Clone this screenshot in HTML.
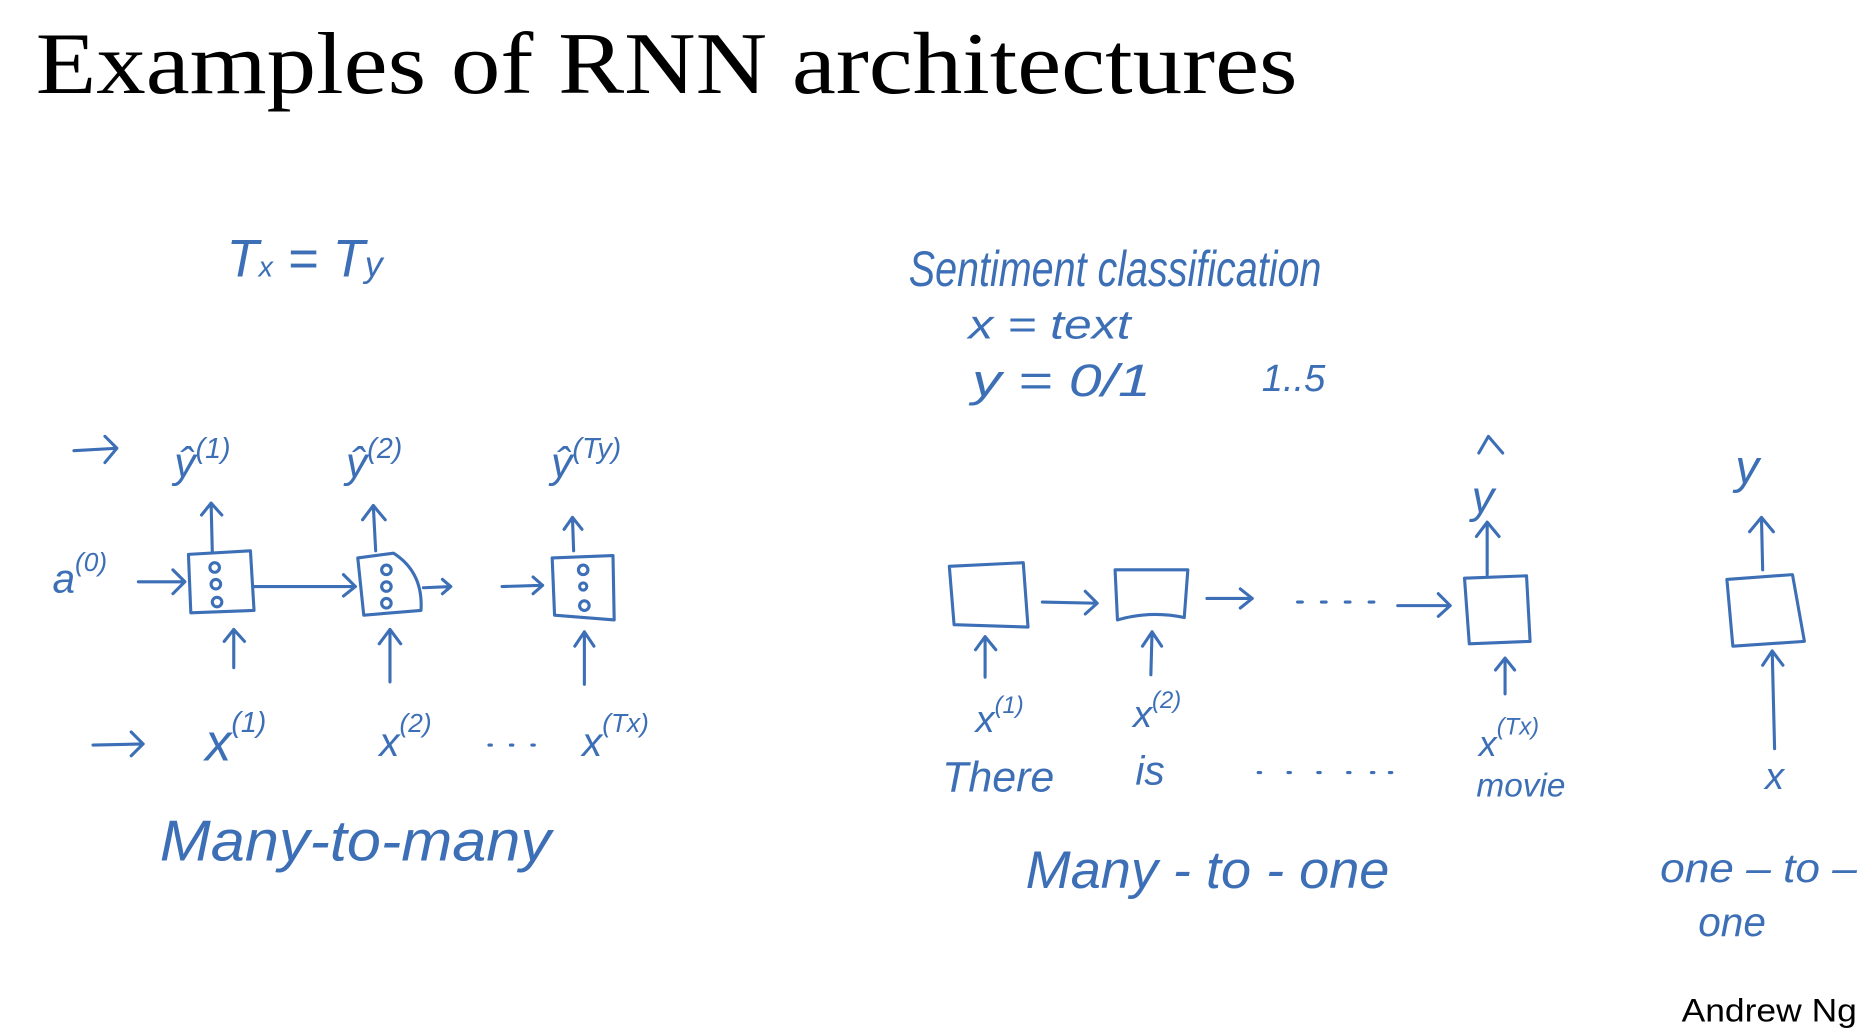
<!DOCTYPE html>
<html><head><style>
html,body{margin:0;padding:0;background:#fff;}
svg{display:block;}
.h{font-family:"Liberation Sans",sans-serif;fill:#3d6fb6;font-style:italic;}
</style></head><body>
<svg width="1870" height="1036" viewBox="0 0 1568 869" preserveAspectRatio="none" xmlns="http://www.w3.org/2000/svg">
<rect width="1568" height="869" fill="#fff"/>
<text x="30" y="78" font-family="Liberation Serif,serif" font-size="74" fill="#000" textLength="1058" lengthAdjust="spacingAndGlyphs">Examples of RNN architectures</text>
<text x="1410" y="857" font-family="Liberation Sans,sans-serif" font-size="27" fill="#000" textLength="147" lengthAdjust="spacingAndGlyphs">Andrew Ng</text>
<g fill="none" stroke="#3d6fb6" stroke-width="2.6" stroke-linecap="round" stroke-linejoin="round">
<path d="M158 465 L210 462 L213 512 L160 514 Z"/>
<path d="M300 468 L330 464 Q355 480 353 512 L305 516 Z"/>
<path d="M463 468 L514 466 L515 520 L465 516 Z"/>
<circle cx="180" cy="476" r="4"/><circle cx="181" cy="490" r="4"/><circle cx="182" cy="505" r="4"/>
<circle cx="324" cy="478" r="4"/><circle cx="324" cy="492" r="4"/><circle cx="324" cy="506" r="4"/>
<circle cx="489" cy="478" r="4"/><circle cx="489" cy="492" r="3"/><circle cx="490" cy="508" r="4"/>
<path d="M62 378 L98 376 M88 366 L98 376 L88 388"/>
<path d="M116 488 L155 488 M145 478 L155 488 L145 498"/>
<path d="M213 492 L298 492 M288 482 L298 492 L288 500"/>
<path d="M355 493 L378 492 M371 486 L378 492 L371 498"/>
<path d="M421 492 L455 491 M447 484 L455 491 L447 498"/>
<path d="M78 625 L120 624 M110 614 L120 624 L110 634"/>
<path d="M178 462 L177 422 M169 432 L177 422 L186 432"/>
<path d="M315 462 L313 424 M304 436 L313 424 L323 436"/>
<path d="M481 462 L480 434 M473 444 L480 434 L488 444"/>
<path d="M196 560 L196 528 M188 538 L196 528 L205 538"/>
<path d="M327 572 L327 528 M318 540 L327 528 L336 540"/>
<path d="M490 574 L490 530 M482 542 L490 530 L498 542"/>
<path d="M796 475 L858 472 L862 526 L800 524 Z"/>
<path d="M935 478 L996 478 L993 518 Q965 512 937 520 Z"/>
<path d="M1228 485 L1280 483 L1283 538 L1232 540 Z"/>
<path d="M1448 486 L1503 482 L1513 538 L1453 542 Z"/>
<path d="M874 505 L920 506 M910 496 L920 506 L910 515"/>
<path d="M1012 502 L1050 502 M1040 494 L1050 502 L1040 510"/>
<path d="M1172 508 L1216 508 M1206 498 L1216 508 L1206 517" />
<path d="M1088 505 L1092 505 M1108 505 L1112 505 M1128 505 L1132 505 M1148 505 L1152 505"/>
<path d="M826 568 L826 534 M818 545 L826 534 L835 545"/>
<path d="M965 566 L966 530 M958 542 L966 530 L974 542"/>
<path d="M1262 582 L1262 552 M1254 562 L1262 552 L1270 562"/>
<path d="M1488 628 L1486 546 M1478 558 L1486 546 L1495 558"/>
<path d="M1247 482 L1247 438 M1238 450 L1247 438 L1257 450"/>
<path d="M1478 478 L1477 434 M1467 446 L1477 434 L1487 446"/>
<path d="M1240 380 L1248 366 L1260 380"/>
<path d="M1055 648 L1057 648 M1080 648 L1082 648 M1105 648 L1107 648 M1130 648 L1132 648 M1150 648 L1152 648 M1165 648 L1167 648"/>
<path d="M410 625 L412 625 M428 625 L430 625 M446 625 L448 625"/>
</g>
<g class="h">
<text x="190" y="232" font-size="44">T<tspan font-size="24">x</tspan> = T<tspan font-size="30">y</tspan></text>
<text x="146" y="400" font-size="36">ŷ<tspan font-size="24" dy="-16">(1)</tspan></text>
<text x="290" y="400" font-size="36">ŷ<tspan font-size="24" dy="-16">(2)</tspan></text>
<text x="462" y="400" font-size="36">ŷ<tspan font-size="24" dy="-16">(Ty)</tspan></text>
<text x="44" y="497" font-size="34">a<tspan font-size="22" dy="-18">(0)</tspan></text>
<text x="172" y="638" font-size="44">x<tspan font-size="24" dy="-24">(1)</tspan></text>
<text x="318" y="634" font-size="34">x<tspan font-size="22" dy="-20">(2)</tspan></text>
<text x="488" y="634" font-size="34">x<tspan font-size="22" dy="-20">(Tx)</tspan></text>
<text x="134" y="722" font-size="48" textLength="328" lengthAdjust="spacingAndGlyphs">Many-to-many</text>
<text x="762" y="240" font-size="42" textLength="346" lengthAdjust="spacingAndGlyphs">Sentiment classification</text>
<text x="812" y="284" font-size="34" textLength="136" lengthAdjust="spacingAndGlyphs">x = text</text>
<text x="815" y="332" font-size="38" textLength="150" lengthAdjust="spacingAndGlyphs">y = 0/1</text>
<text x="1058" y="328" font-size="32">1..5</text>
<text x="1234" y="430" font-size="38">y</text>
<text x="1455" y="405" font-size="40">y</text>
<text x="818" y="614" font-size="32">x<tspan font-size="20" dy="-16">(1)</tspan></text>
<text x="950" y="610" font-size="32">x<tspan font-size="20" dy="-16">(2)</tspan></text>
<text x="1240" y="634" font-size="30">x<tspan font-size="20" dy="-18">(Tx)</tspan></text>
<text x="790" y="664" font-size="36">There</text>
<text x="952" y="658" font-size="34">is</text>
<text x="1238" y="668" font-size="28">movie</text>
<text x="1480" y="662" font-size="32">x</text>
<text x="860" y="745" font-size="44" textLength="305" lengthAdjust="spacingAndGlyphs">Many - to - one</text>
<text x="1392" y="740" font-size="34" textLength="165" lengthAdjust="spacingAndGlyphs">one – to –</text>
<text x="1424" y="785" font-size="34">one</text>
</g>
</svg>
</body></html>
